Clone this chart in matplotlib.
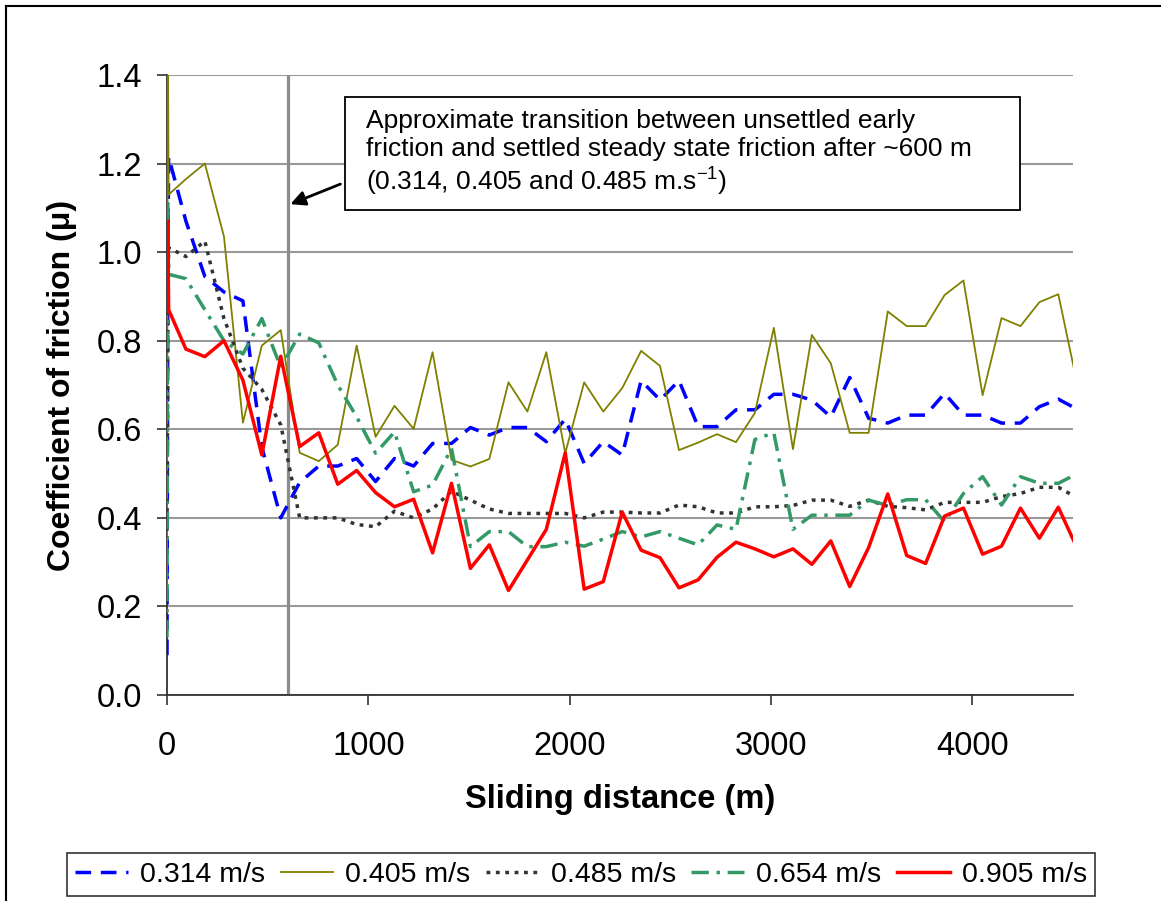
import matplotlib.pyplot as plt
from matplotlib.patches import Rectangle
from matplotlib.lines import Line2D

plt.rcParams['font.family'] = ['Liberation Sans', 'DejaVu Sans']
plt.rcParams['mathtext.default'] = 'regular'

# sliding distance (m) - first three points are the run-in spike at the origin
start_distance = [0, 4, 8]
distance = [94, 188, 283, 377, 471, 565, 659, 754, 848, 942,
            1036, 1130, 1225, 1319, 1413, 1507, 1601, 1696, 1790, 1884,
            1978, 2072, 2167, 2261, 2355, 2449, 2543, 2638, 2732, 2826,
            2920, 3014, 3109, 3203, 3297, 3391, 3485, 3580, 3674, 3768,
            3862, 3956, 4051, 4145, 4239, 4333, 4427, 4522]

mu_0314_start = [0.09, 0.90, 1.215]
mu_0314 = [1.07, 0.945, 0.91, 0.89, 0.56, 0.40, 0.48, 0.517, 0.517, 0.534,
           0.482, 0.534, 0.517, 0.568, 0.568, 0.604, 0.587, 0.604, 0.604, 0.572,
           0.623, 0.523, 0.572, 0.542, 0.710, 0.666, 0.710, 0.606, 0.606, 0.644,
           0.644, 0.679, 0.679, 0.666, 0.628, 0.717, 0.625, 0.614, 0.632, 0.632,
           0.681, 0.632, 0.632, 0.614, 0.614, 0.651, 0.668, 0.645]

mu_0405_start = [0.25, 1.55, 1.13]
mu_0405 = [1.165, 1.20, 1.035, 0.615, 0.789, 0.824, 0.547, 0.528, 0.565, 0.789,
           0.583, 0.653, 0.601, 0.774, 0.531, 0.516, 0.533, 0.706, 0.640, 0.774,
           0.546, 0.706, 0.640, 0.693, 0.777, 0.743, 0.553, 0.570, 0.589, 0.571,
           0.637, 0.829, 0.555, 0.813, 0.749, 0.592, 0.592, 0.866, 0.833, 0.833,
           0.903, 0.936, 0.677, 0.851, 0.833, 0.887, 0.905, 0.70]

mu_0485_start = [0.35, 0.80, 1.01]
mu_0485 = [0.99, 1.025, 0.85, 0.738, 0.69, 0.61, 0.40, 0.40, 0.40, 0.385,
           0.38, 0.415, 0.40, 0.42, 0.46, 0.44, 0.42, 0.41, 0.41, 0.41,
           0.41, 0.40, 0.413, 0.413, 0.411, 0.411, 0.429, 0.425, 0.411, 0.411,
           0.425, 0.425, 0.428, 0.440, 0.440, 0.426, 0.440, 0.426, 0.423, 0.418,
           0.435, 0.435, 0.435, 0.448, 0.455, 0.469, 0.469, 0.445]

mu_0654_start = [0.13, 1.11, 0.95]
mu_0654 = [0.94, 0.87, 0.80, 0.77, 0.85, 0.74, 0.815, 0.795, 0.70, 0.628,
           0.546, 0.594, 0.459, 0.474, 0.557, 0.335, 0.369, 0.369, 0.335, 0.335,
           0.345, 0.336, 0.352, 0.369, 0.357, 0.369, 0.354, 0.339, 0.384, 0.374,
           0.577, 0.592, 0.374, 0.406, 0.406, 0.406, 0.440, 0.428, 0.441, 0.441,
           0.391, 0.455, 0.493, 0.429, 0.493, 0.478, 0.478, 0.50]

mu_0905_start = [0.87, 1.07, 0.87]
mu_0905 = [0.781, 0.764, 0.800, 0.711, 0.542, 0.765, 0.561, 0.592, 0.476, 0.507,
           0.457, 0.425, 0.442, 0.321, 0.478, 0.286, 0.339, 0.236, 0.305, 0.374,
           0.547, 0.239, 0.256, 0.413, 0.327, 0.310, 0.242, 0.260, 0.311, 0.345,
           0.330, 0.312, 0.330, 0.295, 0.348, 0.245, 0.333, 0.454, 0.315, 0.297,
           0.404, 0.422, 0.318, 0.336, 0.422, 0.354, 0.424, 0.33]

labels = ['0.314 m/s', '0.405 m/s', '0.485 m/s', '0.654 m/s', '0.905 m/s']

fig = plt.figure(figsize=(11.61, 9.01), dpi=100)
ax = fig.add_axes([167 / 1161, 1 - 695 / 901, (1073 - 167) / 1161, (695 - 75) / 901])

x_all = start_distance + distance
ax.plot(x_all, mu_0314_start + mu_0314, color='#0000FF', lw=2.5,
        linestyle=(0, (4.5, 2.8)), label=labels[0], zorder=3)
ax.plot(x_all, mu_0405_start + mu_0405, color='#808000', lw=1.3,
        label=labels[1], zorder=3)
ax.plot(x_all, mu_0485_start + mu_0485, color='#333333', lw=2.5,
        linestyle=(0, (1.1, 1.6)), label=labels[2], zorder=3)
ax.plot(x_all, mu_0654_start + mu_0654, color='#339966', lw=2.5,
        linestyle=(0, (5, 2.2, 1, 2.2)), label=labels[3], zorder=3)
ax.plot(x_all, mu_0905_start + mu_0905, color='#FF0000', lw=2.5,
        label=labels[4], zorder=3)

# transition marker
ax.axvline(600, color='#8c8c8c', lw=2.3, zorder=2)

ax.set_xlim(0, 4500)
ax.set_ylim(0, 1.4)
ax.set_xticks([0, 1000, 2000, 3000, 4000])
ax.set_yticks([0.0, 0.2, 0.4, 0.6, 0.8, 1.0, 1.2, 1.4])
ax.set_yticklabels(['%.1f' % v for v in ax.get_yticks()])
ax.yaxis.grid(True, color='#999999', lw=1.5)
ax.set_axisbelow(True)

for side in ['top', 'right']:
    ax.spines[side].set_visible(False)
for side in ['left', 'bottom']:
    ax.spines[side].set_color('#333333')
    ax.spines[side].set_linewidth(1.3)

ax.tick_params(axis='both', labelsize=23.5, length=7, width=1.2, color='#333333')
ax.tick_params(axis='y', pad=11)
ax.tick_params(axis='x', pad=19)

ax.set_xlabel('Sliding distance (m)', fontsize=23.5, fontweight='bold')
ax.set_ylabel('Coefficient of friction (\u03bc)', fontsize=23, fontweight='bold')
ax.xaxis.set_label_coords(0.5, -0.143)
ax.yaxis.set_label_coords(-0.099, 0.5)

# annotation box and arrow
ax.add_patch(Rectangle((884, 1.095), 4235 - 884, 1.350 - 1.095, facecolor='white',
                       edgecolor='black', lw=1.3, zorder=5))
ax.text(986, 1.222,
        'Approximate transition between unsettled early\n'
        'friction and settled steady state friction after ~600 m\n'
        '(0.314, 0.405 and 0.485 m.s$^{-1}$)',
        fontsize=19, ha='left', va='center', linespacing=1.2, zorder=6)
ax.annotate('', xy=(600, 1.106), xytext=(874, 1.156),
            arrowprops=dict(arrowstyle='-|>', color='black', lw=2,
                            mutation_scale=22), zorder=6)

leg = fig.legend(loc='center', bbox_to_anchor=(581 / 1161, 1 - 874.5 / 901), ncol=5,
                 fontsize=20.5, frameon=True, fancybox=False, edgecolor='black',
                 handlelength=1.85, handletextpad=0.42, columnspacing=0.55,
                 borderpad=0.3)
leg.get_frame().set_linewidth(1.2)

# outer chart border (left and top visible)
fig.add_artist(Line2D([6 / 1161, 6 / 1161], [0, 1 - 6 / 901],
                      transform=fig.transFigure, color='black', lw=1.5))
fig.add_artist(Line2D([6 / 1161, 1], [1 - 6 / 901, 1 - 6 / 901],
                      transform=fig.transFigure, color='black', lw=1.5))

fig.savefig('out.png', dpi=100)
